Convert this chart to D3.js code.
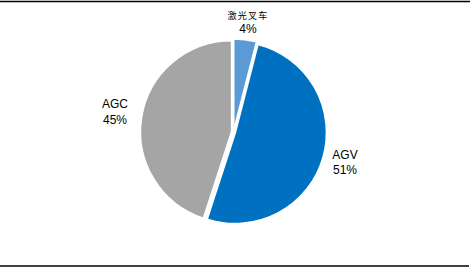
<!DOCTYPE html>
<html><head><meta charset="utf-8">
<script src="https://cdn.jsdelivr.net/npm/d3@7"></script>
<style>html,body{margin:0;padding:0;background:#fff;}svg{display:block;}</style>
</head><body>
<svg id="c" width="471" height="269"></svg>
<script>
const categories = ["激光叉车", "AGV", "AGC"];
const values = [4, 51, 45];
const labels = ["4%", "51%", "45%"];
const colors = ["#5B9BD5", "#0070C0", "#A5A5A5"];

const svg = d3.select("#c");
const W = 471, H = 269;
svg.append("line").attr("x1", 0).attr("x2", 470).attr("y1", 1.5).attr("y2", 1.5)
  .attr("stroke", "#000").attr("stroke-width", 1.5);
svg.append("line").attr("x1", 0).attr("x2", 469).attr("y1", 266).attr("y2", 266)
  .attr("stroke", "#000").attr("stroke-width", 1.5);

const cx = 233.5, cy = 132, r = 91, explode = 2;
const pie = d3.pie().sort(null).value(d => d)(values);
const arc = d3.arc().innerRadius(0).outerRadius(r);
const g = svg.append("g").attr("transform", `translate(${cx},${cy})`);
g.selectAll("path").data(pie).join("path")
  .attr("d", arc)
  .attr("fill", (d, i) => colors[i])
  .attr("stroke", "#fff").attr("stroke-width", 1.5)
  .attr("transform", d => {
    const a = (d.startAngle + d.endAngle) / 2;
    return `translate(${explode * Math.sin(a)},${-explode * Math.cos(a)})`;
  });

// label positions
const labelPos = [[248, 19, 33], [345, 159, 174], [115, 108, 124]];
const font = "'Liberation Sans', Arial, sans-serif";
categories.forEach((c, i) => {
  const [x, y1, y2] = labelPos[i];
  const t1 = svg.append("text").attr("x", x).attr("y", y1).attr("text-anchor", "middle")
    .attr("fill", "#000").text(c);
  if (i === 0) {
    t1.attr("font-family", "'Noto Sans CJK SC', sans-serif").attr("font-size", 9).attr("letter-spacing", 1.2);
  } else {
    t1.attr("font-family", font).attr("font-size", 12);
  }
  svg.append("text").attr("x", x).attr("y", y2).attr("text-anchor", "middle")
    .attr("font-family", font).attr("font-size", 12).attr("fill", "#000").text(labels[i]);
});
</script>
</body></html>
